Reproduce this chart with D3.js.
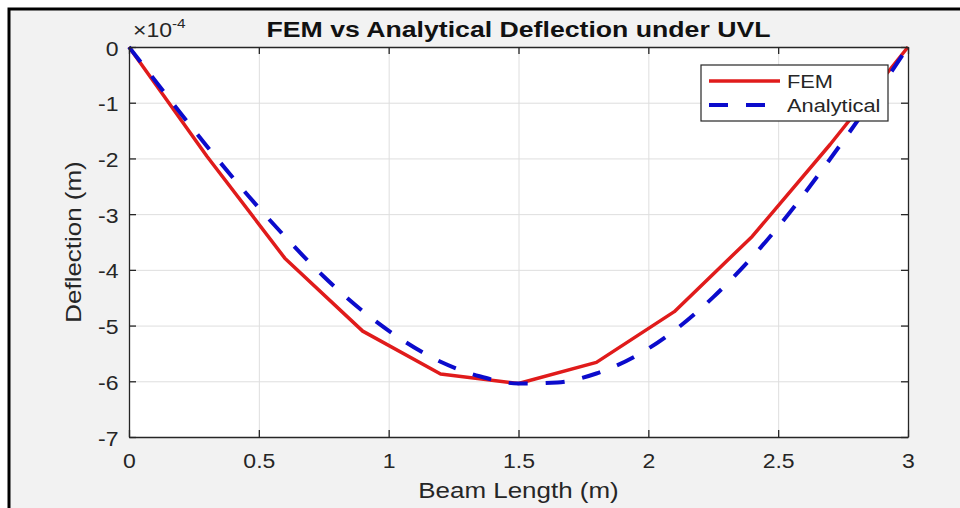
<!DOCTYPE html>
<html>
<head>
<meta charset="utf-8">
<script src="https://cdn.jsdelivr.net/npm/d3@7"></script>
<style>
  body { margin: 0; background: #fff; }
  svg { display: block; }
  text { font-family: "Liberation Sans", Arial, sans-serif; fill: #262626; }
</style>
</head>
<body>
<svg id="chart" width="960" height="508"></svg>
<script>
// beam positions (m) and deflections (x 1e-4 m)
const femX = [0, 0.3, 0.6, 0.9, 1.2, 1.5, 1.8, 2.1, 2.4, 2.7, 3.0];
const femDefl = [0, -1.96, -3.79, -5.10, -5.87, -6.04, -5.66, -4.75, -3.40, -1.75, 0];
const anaX = [0, 0.15, 0.3, 0.45, 0.6, 0.75, 0.9, 1.05, 1.2, 1.35, 1.5,
              1.65, 1.8, 1.95, 2.1, 2.25, 2.4, 2.55, 2.7, 2.85, 3.0];
const anaDefl = [0, -0.90, -1.78, -2.62, -3.40, -4.12, -4.74, -5.25, -5.65, -5.91, -6.04,
                 -6.02, -5.86, -5.55, -5.09, -4.49, -3.77, -2.94, -2.01, -1.03, 0];
const xTicks = [0, 0.5, 1, 1.5, 2, 2.5, 3];
const yTicks = [0, -1, -2, -3, -4, -5, -6, -7];
const seriesNames = ["FEM", "Analytical"];

const axLeft = 129, axRight = 908, axTop = 47, axBottom = 437;
const sx = 1.18; // text in the picture is set wide
const red = "#e01b1b", blue = "#0b0bcc", axisCol = "#262626";

var svg = d3.select("#chart");

// figure background and outer frame
svg.append("rect").attr("x", 9).attr("y", 9).attr("width", 960).attr("height", 510)
   .attr("fill", "#f2f2f2").attr("stroke", "#000").attr("stroke-width", 3);

var x = d3.scaleLinear().domain([0, 3]).range([axLeft, axRight]);
var y = d3.scaleLinear().domain([-7, 0]).range([axBottom, axTop]);

svg.append("rect").attr("x", axLeft).attr("y", axTop)
   .attr("width", axRight - axLeft).attr("height", axBottom - axTop).attr("fill", "#fff");

// grid
svg.append("g").attr("transform", "translate(0," + axBottom + ")")
   .call(d3.axisBottom(x).tickValues(xTicks).tickSize(-(axBottom - axTop)).tickFormat(""))
   .call(g => g.select(".domain").remove())
   .selectAll("line").attr("stroke", "#dedede").attr("stroke-width", 1);
svg.append("g").attr("transform", "translate(" + axLeft + ",0)")
   .call(d3.axisLeft(y).tickValues(yTicks).tickSize(-(axRight - axLeft)).tickFormat(""))
   .call(g => g.select(".domain").remove())
   .selectAll("line").attr("stroke", "#dedede").attr("stroke-width", 1);

// lines
var line = d3.line().x(d => x(d[0])).y(d => y(d[1]));
svg.append("path")
   .datum(femX.map((v, i) => [v, femDefl[i]]))
   .attr("fill", "none").attr("stroke", red).attr("stroke-width", 3.5)
   .attr("stroke-linejoin", "round")
   .attr("d", line);
svg.append("path")
   .datum(anaX.map((v, i) => [v, anaDefl[i]]))
   .attr("fill", "none").attr("stroke", blue).attr("stroke-width", 4)
   .attr("stroke-dasharray", "19,18")
   .attr("d", line.curve(d3.curveMonotoneX));

// axes with inward ticks, box on
function styleAxis(g) {
  g.select(".domain").attr("stroke", axisCol).attr("stroke-width", 1.3);
  g.selectAll(".tick line").attr("stroke", axisCol).attr("stroke-width", 1.3);
}
svg.append("g").attr("transform", "translate(0," + axBottom + ")")
   .call(d3.axisBottom(x).tickValues(xTicks).tickSizeInner(-7).tickSizeOuter(0).tickFormat(d => String(d)))
   .call(styleAxis)
   .selectAll("text")
   .attr("y", null).attr("dy", null)
   .attr("transform", "translate(0,31) scale(" + sx + ",1)")
   .attr("font-size", 19.5).attr("fill", axisCol);
svg.append("g").attr("transform", "translate(0," + axTop + ")")
   .call(d3.axisTop(x).tickValues(xTicks).tickSizeInner(-7).tickSizeOuter(0).tickFormat(""))
   .call(styleAxis);
svg.append("g").attr("transform", "translate(" + axLeft + ",0)")
   .call(d3.axisLeft(y).tickValues(yTicks).tickSizeInner(-7).tickSizeOuter(0).tickFormat(d => String(d)))
   .call(styleAxis)
   .selectAll("text")
   .attr("x", null).attr("dy", "0.36em")
   .attr("transform", "translate(-10.5,1) scale(" + sx + ",1)")
   .attr("font-size", 19.5).attr("fill", axisCol);
svg.append("g").attr("transform", "translate(" + axRight + ",0)")
   .call(d3.axisRight(y).tickValues(yTicks).tickSizeInner(-7).tickSizeOuter(0).tickFormat(""))
   .call(styleAxis);
svg.selectAll("g").attr("font-family", null);

// exponent label
var expo = svg.append("text")
   .attr("transform", "translate(133,37) scale(" + sx + ",1)")
   .attr("font-size", 19.5);
expo.append("tspan").text("×10");
expo.append("tspan").attr("dy", -9).attr("font-size", 13).text("-4");

// title and axis labels
svg.append("text")
   .attr("transform", "translate(" + (axLeft + axRight) / 2 + ",37) scale(" + sx + ",1)")
   .attr("text-anchor", "middle").attr("font-size", 22.6).attr("font-weight", "bold")
   .style("fill", "#111")
   .text("FEM vs Analytical Deflection under UVL");
svg.append("text")
   .attr("transform", "translate(" + (axLeft + axRight) / 2 + ",498) scale(" + sx + ",1)")
   .attr("text-anchor", "middle").attr("font-size", 22)
   .text("Beam Length (m)");
svg.append("text")
   .attr("transform", "translate(81," + (axTop + axBottom) / 2 + ") rotate(-90) scale(" + sx + ",1)")
   .attr("text-anchor", "middle").attr("font-size", 22)
   .text("Deflection (m)");

// legend
var legend = svg.append("g").attr("transform", "translate(701,65)");
legend.append("rect").attr("x", 0).attr("y", 0).attr("width", 187).attr("height", 56)
   .attr("fill", "#fff").attr("stroke", axisCol).attr("stroke-width", 1.2);
var items = legend.selectAll(".legend-item").data(seriesNames).enter()
   .append("g").attr("class", "legend-item")
   .attr("transform", (d, i) => "translate(0," + (16 + i * 24) + ")");
items.append("line").attr("x1", 8).attr("x2", 79).attr("y1", 0).attr("y2", 0)
   .attr("stroke", (d, i) => i === 0 ? red : blue)
   .attr("stroke-width", (d, i) => i === 0 ? 3.5 : 4)
   .attr("stroke-dasharray", (d, i) => i === 0 ? null : "19,18");
items.append("text")
   .attr("transform", "translate(86,6.5) scale(" + sx + ",1)")
   .attr("font-size", 18.5)
   .text(d => d);
</script>
</body>
</html>
